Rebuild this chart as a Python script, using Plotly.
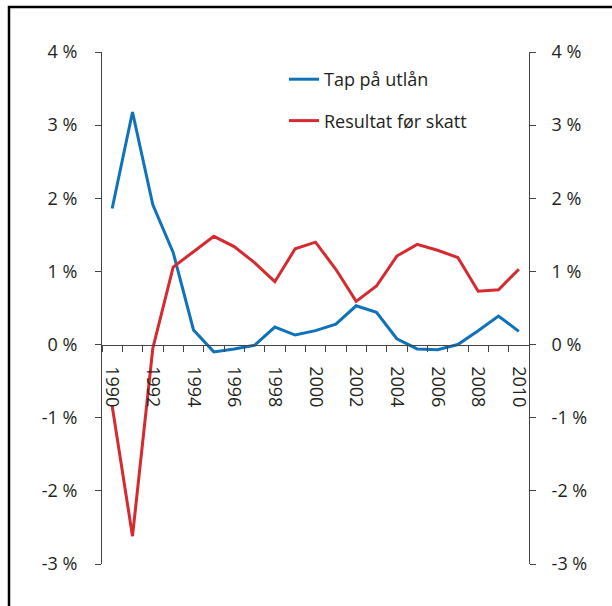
import plotly.graph_objects as go

years = list(range(1990, 2011))
tap_paa_utlaan = [1.86, 3.18, 1.91, 1.26, 0.20, -0.10, -0.06, -0.01, 0.24, 0.13, 0.19,
                  0.28, 0.53, 0.44, 0.08, -0.06, -0.07, 0.00, 0.19, 0.39, 0.18]
resultat_for_skatt = [-0.84, -2.62, -0.05, 1.06, 1.27, 1.48, 1.34, 1.12, 0.86, 1.31, 1.40,
                      1.03, 0.59, 0.80, 1.21, 1.37, 1.29, 1.19, 0.73, 0.75, 1.03]
series_names = ["Tap på utlån", "Resultat før skatt"]
y_tick_vals = [-3, -2, -1, 0, 1, 2, 3, 4]
y_tick_text = ["-3 %", "-2 %", "-1 %", "0 %", "1 %", "2 %", "3 %", "4 %"]
x_label_years = [y for y in years if y % 2 == 0]

BLUE = "#0f72ba"
RED = "#d52a30"
AXIS = "#444444"
TEXT = "#231f20"
FONT = "Open Sans"

W, H = 612, 606
ML, MR, MT, MB = 102, 83, 52, 42
PW, PH = W - ML - MR, H - MT - MB

fig = go.Figure()
fig.add_trace(go.Scatter(x=years, y=tap_paa_utlaan, mode="lines", name=series_names[0],
                         line=dict(color=BLUE, width=3), legendgroup="a"))
fig.add_trace(go.Scatter(x=years, y=resultat_for_skatt, mode="lines", name=series_names[1],
                         line=dict(color=RED, width=3), legendgroup="b", yaxis="y2"))

ymin, ymax = y_tick_vals[0], y_tick_vals[-1]
zero_pos = (0 - ymin) / (ymax - ymin)
boundaries = [y - 0.5 for y in years] + [years[-1] + 0.5]

yax = dict(range=[ymin, ymax], tickmode="array", tickvals=y_tick_vals, ticktext=y_tick_text,
           ticks="outside", ticklen=6, tickcolor=AXIS, showline=True, linecolor=AXIS,
           linewidth=1, showgrid=False, zeroline=False, ticklabelstandoff=14,
           tickfont=dict(family=FONT, size=18, color=TEXT))

fig.update_layout(
    width=W, height=H,
    margin=dict(l=ML, r=MR, t=MT, b=MB),
    paper_bgcolor="white", plot_bgcolor="white",
    font=dict(family=FONT, size=18, color=TEXT),
    xaxis=dict(range=[years[0] - 0.5, years[-1] + 0.5], tickmode="array",
               tickvals=x_label_years, ticktext=[str(y) for y in x_label_years],
               tickangle=90, ticks="", showline=True, linecolor=AXIS, linewidth=1,
               showgrid=False, zeroline=False, anchor="free", position=zero_pos,
               ticklabelstandoff=17,
               tickfont=dict(family=FONT, size=18, color=TEXT),
               minor=dict(tickmode="array", tickvals=boundaries, ticks="outside",
                          ticklen=6, tickcolor=AXIS, showgrid=False)),
    yaxis=yax,
    yaxis2=dict(yax, ticklabelstandoff=12, overlaying="y", side="right", anchor="x"),
    legend=dict(x=(284 - ML) / PW, y=(H - MB - 61) / PH,
                xanchor="left", yanchor="top", bgcolor="rgba(0,0,0,0)",
                tracegroupgap=15, font=dict(family=FONT, size=18, color=TEXT)),
    showlegend=True,
    shapes=[dict(type="rect", xref="paper", yref="paper",
                 x0=(9 - ML) / PW, x1=1.3,
                 y0=-0.2, y1=(H - MB - 7) / PH,
                 line=dict(color="black", width=2.5), fillcolor="rgba(0,0,0,0)",
                 layer="above")],
)

fig.write_html("out.html", config={"displayModeBar": False},
               post_script="document.body.style.margin='0px';")
